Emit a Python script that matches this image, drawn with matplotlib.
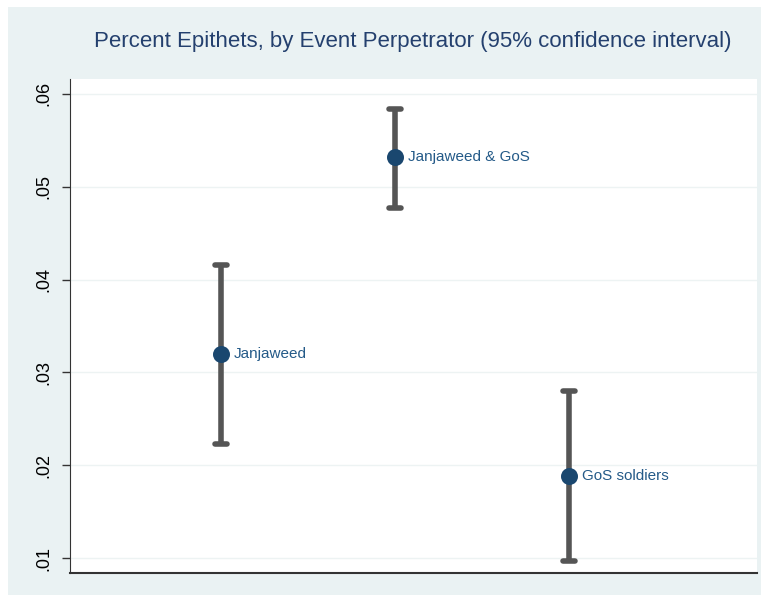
import matplotlib.pyplot as plt
from matplotlib.patches import Rectangle

# epithet share by perpetrator, with 95% CI bounds
groups = ['Janjaweed', 'Janjaweed & GoS', 'GoS soldiers']
group_pos = [1, 2, 3]
pct_mean = [0.0320, 0.0532, 0.0188]
ci_low = [0.0223, 0.0477, 0.0097]
ci_high = [0.0416, 0.0584, 0.0280]
yticks = [0.01, 0.02, 0.03, 0.04, 0.05, 0.06]
ytick_labels = ['.01', '.02', '.03', '.04', '.05', '.06']

navy = '#1a476f'
bg = '#eaf2f3'
plt.rcParams['font.family'] = ['Liberation Sans', 'DejaVu Sans']

fig = plt.figure(figsize=(7.61, 5.95), dpi=100, facecolor='white')
fig.patches.append(Rectangle((8 / 761, 0), 1, 1 - 7 / 595, transform=fig.transFigure,
                             facecolor=bg, edgecolor='none', zorder=-10))

ax = fig.add_axes([70 / 761, 22 / 595, 687 / 761, 494 / 595])
ax.set_facecolor('white')

for x, m, lo, hi in zip(group_pos, pct_mean, ci_low, ci_high):
    ax.plot([x, x], [lo, hi], color='#555555', lw=4, solid_capstyle='butt', zorder=2)
    for cap in (lo, hi):
        ax.plot([x - 0.035, x + 0.035], [cap, cap], color='#555555', lw=4,
                solid_capstyle='round', zorder=2)

ax.scatter(group_pos, pct_mean, s=150, color=navy, zorder=3, linewidths=0)
for x, m, name in zip(group_pos, pct_mean, groups):
    ax.annotate(name, (x, m), xytext=(9, 0), textcoords='offset points',
                va='center', ha='left', fontsize=11, color='#245a88')

ax.set_xlim(0.132, 4.08)
ax.set_ylim(0.0084, 0.0616)
ax.set_xticks([])
ax.set_yticks(yticks)
ax.set_yticklabels(ytick_labels, rotation=90, va='center', fontsize=13)
ax.tick_params(axis='y', length=6, width=1, color='#333333', pad=7)
ax.grid(axis='y', color='#edf3f3', lw=1)
ax.set_axisbelow(True)

for side in ('top', 'right'):
    ax.spines[side].set_visible(False)
ax.spines['left'].set_color('#333333')
ax.spines['bottom'].set_color('#333333')
ax.spines['bottom'].set_linewidth(1.5)

fig.text(413 / 761, 1 - 42 / 595, 'Percent Epithets, by Event Perpetrator (95% confidence interval)',
         ha='center', va='center', fontsize=16, color='#24406e')

fig.savefig('out.png', dpi=100, facecolor=fig.get_facecolor())
